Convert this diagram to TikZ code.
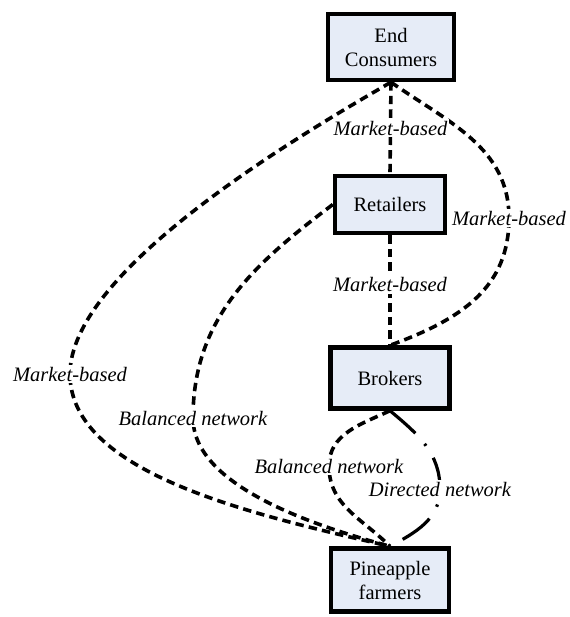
\documentclass[tikz,border=0pt]{standalone}
\usepackage{fontspec}
\setmainfont{Liberation Serif}
\definecolor{boxfill}{RGB}{230,236,247}
\tikzset{
  box/.style={draw=black, line width=2.2pt, fill=boxfill, inner sep=0pt, align=center,
    font=\fontsize{10.25}{12}\selectfont},
  dl/.style={line width=1.8pt, dash pattern=on 4.2pt off 2.6pt},
  dirl/.style={line width=1.6pt, dash pattern=on 17pt off 7pt on 1.2pt off 7pt},
  lbl/.style={fill=white, inner sep=1pt, font=\fontsize{10.25}{12}\selectfont\itshape}
}
\begin{document}
\begin{tikzpicture}[x=0.5pt,y=-0.5pt]
\useasboundingbox (0,0) rectangle (569,617);
% boxes
\node[box, minimum width=63pt, minimum height=33pt] (ec) at (391,47) {End\\Consumers};
\node[box, minimum width=55pt, minimum height=28.5pt] (ret) at (390,204.5) {Retailers};
\node[box, minimum width=59.5pt, minimum height=30.5pt] (bro) at (390,378) {Brokers};
\node[box, minimum width=59pt, minimum height=31.5pt] (pf) at (390,580) {Pineapple\\farmers};
% label points
\coordinate (mr) at (509,218);
\coordinate (ml) at (70,374);
\coordinate (bn1) at (193,418);
\coordinate (bn2) at (329,466);
\coordinate (dn) at (440,489);
% connectors
\draw[dl] (ec.south) -- coordinate[pos=0.5] (m1) (ret.north);
\draw[dl] (ret.south) -- coordinate[pos=0.45] (m2) (bro.north);
\draw[dl] (ec.south) to[out=-35,in=90] (mr) to[out=-90,in=20,in looseness=1.15] (bro.north);
\draw[dl] (ec.south) to[out=-150,in=90,out looseness=0.7,in looseness=0.6] (ml)
  to[out=-90,in=167,out looseness=0.7] (pf.north);
\draw[dl] (ret.west) to[out=-143,in=90] (bn1) to[out=-90,in=165,out looseness=0.7] (pf.north);
\draw[dl] (bro.south) to[out=-155,in=90] (bn2) to[out=-90,in=135] (pf.north);
\draw[dirl] (bro.south) to[out=-40,in=90] (dn) to[out=-90,in=28] (pf.north);
% labels
\node[lbl] (l1) at (m1) {Market-based};
\node[lbl] (l2) at (m2) {Market-based};
\node[lbl] (l3) at (mr) {Market-based};
\node[lbl] (l4) at (ml) {Market-based};
\node[lbl] (l5) at (bn1) {Balanced network};
\node[lbl] (l6) at (bn2) {Balanced network};
\node[lbl] (l7) at (dn) {Directed network};
\end{tikzpicture}
\end{document}
